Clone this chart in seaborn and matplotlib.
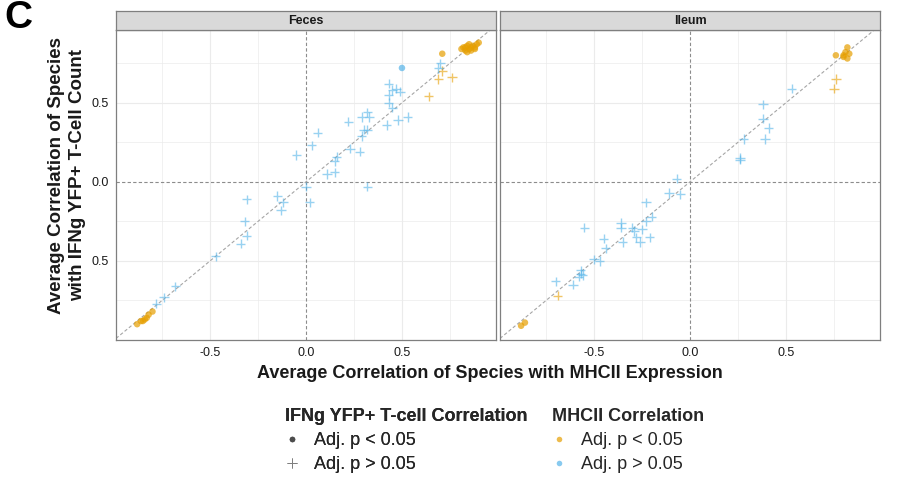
import matplotlib
matplotlib.use("Agg")
import matplotlib.pyplot as plt
import seaborn as sns
import pandas as pd
from matplotlib.lines import Line2D

sns.set_style("white")
plt.rcParams['font.family'] = ['Liberation Sans', 'DejaVu Sans']

# ---------------- data ----------------
# Feces panel
feces_x = [0.81, 0.82, 0.83, 0.84, 0.85, 0.86, 0.84, 0.87, 0.88, 0.89, 0.90, 0.83, 0.85, 0.86, 0.88, 0.71,
           0.50,
           0.71, 0.69, 0.76, 0.64,
           -0.80, -0.82, -0.83, -0.84, -0.85, -0.88, -0.86,
           0.70, 0.69, 0.43, 0.45, 0.47, 0.49, 0.43, 0.43, 0.45, 0.53, 0.48, 0.42, 0.32, 0.33, 0.29, 0.22,
           0.30, 0.32, 0.29, 0.23, 0.28, 0.06, 0.03, -0.05, 0.16, 0.15, 0.15, 0.11,
           0.00, 0.02, 0.32, -0.15, -0.12, -0.13, -0.31, -0.32, -0.31, -0.34, -0.47, -0.68, -0.74, -0.78]
feces_y = [0.84, 0.85, 0.83, 0.86, 0.84, 0.85, 0.82, 0.86, 0.85, 0.87, 0.88, 0.85, 0.87, 0.83, 0.84, 0.81,
           0.72,
           0.70, 0.65, 0.66, 0.54,
           -0.82, -0.84, -0.86, -0.87, -0.88, -0.90, -0.88,
           0.75, 0.72, 0.62, 0.58, 0.59, 0.57, 0.55, 0.50, 0.47, 0.41, 0.39, 0.36, 0.44, 0.41, 0.41, 0.38,
           0.33, 0.33, 0.29, 0.21, 0.19, 0.31, 0.23, 0.17, 0.16, 0.13, 0.06, 0.05,
           -0.03, -0.13, -0.03, -0.09, -0.13, -0.18, -0.11, -0.25, -0.34, -0.39, -0.47, -0.66, -0.73, -0.77]
feces_ifng = (["Adj. p < 0.05"] * 17 + ["Adj. p > 0.05"] * 4 + ["Adj. p < 0.05"] * 7
              + ["Adj. p > 0.05"] * 42)
feces_mhc = (["Adj. p < 0.05"] * 16 + ["Adj. p > 0.05"] + ["Adj. p < 0.05"] * 4 + ["Adj. p < 0.05"] * 7
             + ["Adj. p > 0.05"] * 42)

# Ileum panel
ileum_x = [0.76, 0.82, 0.80, 0.81, 0.83, 0.82, 0.80,
           0.76, 0.75,
           0.53, 0.38, 0.38, 0.41, 0.28, 0.39, 0.26, 0.26, -0.07,
           -0.11, -0.05, -0.23, -0.20, -0.23, -0.36, -0.36, -0.55, -0.30, -0.29, -0.25, -0.28, -0.21,
           -0.26, -0.35, -0.45, -0.44, -0.50, -0.47, -0.57, -0.56, -0.58, -0.57, -0.70, -0.61,
           -0.69,
           -0.86, -0.88]
ileum_y = [0.80, 0.85, 0.80, 0.82, 0.81, 0.78, 0.79,
           0.65, 0.59,
           0.59, 0.49, 0.40, 0.34, 0.27, 0.27, 0.14, 0.15, 0.02,
           -0.07, -0.08, -0.13, -0.22, -0.25, -0.26, -0.29, -0.29, -0.29, -0.31, -0.30, -0.35, -0.35,
           -0.38, -0.38, -0.36, -0.42, -0.49, -0.50, -0.56, -0.59, -0.60, -0.58, -0.63, -0.65,
           -0.72,
           -0.89, -0.91]
ileum_ifng = (["Adj. p < 0.05"] * 7 + ["Adj. p > 0.05"] * 2 + ["Adj. p > 0.05"] * 34
              + ["Adj. p > 0.05"] + ["Adj. p < 0.05"] * 2)
ileum_mhc = (["Adj. p < 0.05"] * 9 + ["Adj. p > 0.05"] * 34 + ["Adj. p < 0.05"] * 3)

panels = ["Feces", "Ileum"]
x_ticks = [-0.5, 0.0, 0.5]
x_tick_labels = ["-0.5", "0.0", "0.5"]
y_ticks = [0.5, 0.0, -0.5]
y_tick_labels = ["0.5", "0.0", "0.5"]

ORANGE = "#E69F00"
BLUE = "#56B4E9"
palette = {"Adj. p < 0.05": ORANGE, "Adj. p > 0.05": BLUE}

frames = []
for name, xs, ys, ifng, mhc in [("Feces", feces_x, feces_y, feces_ifng, feces_mhc),
                                 ("Ileum", ileum_x, ileum_y, ileum_ifng, ileum_mhc)]:
    frames.append(pd.DataFrame({"panel": name, "mhc_corr": xs, "ifng_corr": ys,
                                "ifng_sig": ifng, "mhc_sig": mhc}))
df = pd.concat(frames, ignore_index=True)

# ---------------- figure ----------------
W, H = 898, 486
fig = plt.figure(figsize=(W / 100, H / 100), dpi=100)

def fx(px):
    return px / W

def fy(py):
    return 1 - py / H

panel_px = [(116, 496), (500, 880)]
top_px, bot_px, strip_top = 30, 340, 11
xlim = (-0.99, 0.99)
ylim = (-1.0, 0.96)

axes = []
for i, (name, (l, r)) in enumerate(zip(panels, panel_px)):
    ax = fig.add_axes([fx(l), fy(bot_px), (r - l) / W, (bot_px - top_px) / H])
    sub = df[df.panel == name]
    ax.set_xlim(*xlim)
    ax.set_ylim(*ylim)
    for v in [-0.75, -0.5, -0.25, 0.25, 0.5, 0.75]:
        ax.axvline(v, color="#EBEBEB", lw=0.8 if v in (-0.5, 0.5) else 0.5, zorder=0)
    for v in [-0.75, -0.5, -0.25, 0.25, 0.5, 0.75]:
        ax.axhline(v, color="#EBEBEB", lw=0.8 if v in (-0.5, 0.5) else 0.5, zorder=0)
    ax.axvline(0, color="#8C8C8C", lw=0.8, ls=(0, (3, 2)), zorder=1)
    ax.axhline(0, color="#8C8C8C", lw=0.8, ls=(0, (3, 2)), zorder=1)
    ax.axline((0, 0), slope=1, color="#A6A6A6", lw=0.8, ls=(0, (3, 2)), zorder=1)

    dots = sub[sub.ifng_sig == "Adj. p < 0.05"]
    crosses = sub[sub.ifng_sig == "Adj. p > 0.05"]
    sns.scatterplot(data=dots, x="mhc_corr", y="ifng_corr", hue="mhc_sig", palette=palette,
                    marker="o", s=22, alpha=0.7, edgecolor="none", legend=False, ax=ax, zorder=3)
    sns.scatterplot(data=crosses, x="mhc_corr", y="ifng_corr", hue="mhc_sig", palette=palette,
                    marker="+", s=45, alpha=0.6, linewidth=1.0, legend=False, ax=ax, zorder=3)

    ax.set_xlabel("")
    ax.set_ylabel("")
    ax.set_xticks(x_ticks)
    ax.set_xticklabels(x_tick_labels, fontsize=9, color="#1a1a1a")
    ax.set_yticks(y_ticks)
    if i == 0:
        ax.set_yticklabels(y_tick_labels, fontsize=9, color="#1a1a1a")
    else:
        ax.set_yticklabels([])
    ax.tick_params(axis="both", length=3, width=0.6, color="#333333", pad=2)
    if i == 1:
        ax.tick_params(axis="y", length=0)
    for sp in ax.spines.values():
        sp.set_color("#7F7F7F")
        sp.set_linewidth(0.9)
    axes.append(ax)

    # strip
    sax = fig.add_axes([fx(l), fy(top_px), (r - l) / W, (top_px - strip_top) / H])
    sax.set_facecolor("#D9D9D9")
    sax.set_xticks([])
    sax.set_yticks([])
    for sp in sax.spines.values():
        sp.set_color("#7F7F7F")
        sp.set_linewidth(0.9)
    sax.text(0.5, 0.45, name, ha="center", va="center", fontsize=9, fontweight="bold",
             color="#1a1a1a", transform=sax.transAxes)

# titles
fig.text(fx(490), fy(373), "Average Correlation of Species with MHCII Expression",
         ha="center", va="center", fontsize=13, fontweight="bold", color="#1a1a1a")
fig.text(fx(67), fy(175), "Average Correlation of Species\nwith IFNg YFP+ T-Cell Count",
         ha="center", va="center", rotation=90, fontsize=13.5, fontweight="bold",
         color="#1a1a1a", linespacing=1.25)
fig.text(fx(4), fy(18), "C", ha="left", va="center", fontsize=28, fontweight="bold", color="black")

# legends
h1 = [Line2D([], [], marker="o", ls="", color="#4D4D4D", markersize=4, markeredgecolor="none"),
      Line2D([], [], marker="+", ls="", color="#7F7F7F", markersize=7, markeredgewidth=0.7)]
leg1 = fig.legend(h1, ["Adj. p < 0.05", "Adj. p > 0.05"], title="IFNg YFP+ T-cell Correlation",
                  loc="upper left", bbox_to_anchor=(fx(276), fy(399)), frameon=False,
                  fontsize=13, title_fontproperties={"weight": "bold", "size": 13},
                  handlelength=0.8, handletextpad=0.8, labelspacing=0.4, borderpad=0,
                  alignment="left")
h2 = [Line2D([], [], marker="o", ls="", color=ORANGE, alpha=0.7, markersize=4, markeredgecolor="none"),
      Line2D([], [], marker="o", ls="", color=BLUE, alpha=0.7, markersize=4, markeredgecolor="none")]
leg2 = fig.legend(h2, ["Adj. p < 0.05", "Adj. p > 0.05"], title="MHCII Correlation",
                  loc="upper left", bbox_to_anchor=(fx(543), fy(399)), frameon=False,
                  fontsize=13, title_fontproperties={"weight": "bold", "size": 13},
                  handlelength=0.8, handletextpad=0.8, labelspacing=0.4, borderpad=0,
                  alignment="left")
fig.add_artist(leg1)

fig.savefig("out.png", dpi=100)
